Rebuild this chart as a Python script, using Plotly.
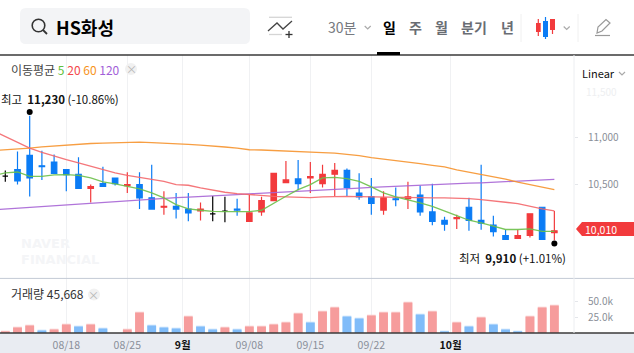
import plotly.graph_objects as go

FONT = "Noto Sans CJK KR"

session = list(range(46))
ma_session = [-1] + session

opens = [10590,10660,10810,10700,10740,10660,10610,10460,10510,10570,10490,10500,10360,10260,10270,10240,10220,10190,10220,10240,10110,10210,10330,10520,10560,10570,10510,10610,10650,10410,10370,10230,10350,10350,10390,10210,10120,10140,10260,10120,10070,9960,9930,9960,10260,9990]
highs = [10650,10850,11230,10860,10820,10660,10790,10500,10690,10570,10630,10630,10710,10430,10410,10410,10310,10380,10370,10350,10390,10370,10620,10750,10760,10740,10710,10730,10670,10620,10570,10430,10470,10530,10490,10510,10160,10180,10360,10710,10170,10020,10020,10190,10260,10220]
lows = [10530,10500,10375,10550,10620,10430,10460,10310,10480,10490,10410,10240,10240,10180,10140,10110,10120,10110,10100,10170,10110,10170,10330,10520,10440,10410,10470,10380,10380,10340,10180,10180,10270,10240,10170,10070,10010,10030,10010,10020,9950,9920,9930,9940,9920,9910]
closes = [10590,10540,10570,10690,10620,10605,10460,10480,10480,10510,10500,10360,10240,10270,10240,10200,10240,10190,10220,10230,10200,10330,10620,10550,10510,10585,10610,10650,10470,10370,10300,10360,10340,10370,10210,10110,10080,10150,10120,10090,10000,9920,9960,10190,9920,10010]
flat_sessions = [0, 17, 18]

ma5 = [10595,10624,10634,10588,10588,10603,10606,10598,10571,10529,10507,10482,10455,10412,10359,10288,10243,10228,10217,10214,10211,10214,10228,10306,10376,10447,10500,10571,10577,10563,10535,10476,10412,10370,10341,10306,10270,10217,10172,10122,10095,10059,10024,10024,10031,10003,10003]
ma20 = [11071,11011,10948,10888,10842,10799,10764,10730,10694,10659,10624,10598,10577,10550,10535,10500,10493,10465,10440,10419,10405,10394,10384,10376,10370,10366,10362,10370,10376,10376,10373,10370,10366,10362,10362,10362,10359,10359,10357,10352,10341,10323,10313,10299,10270,10243,10222]
ma60 = [10860,10867,10879,10888,10900,10910,10923,10930,10936,10941,10946,10952,10950,10946,10942,10934,10927,10919,10913,10899,10886,10870,10867,10863,10858,10851,10844,10840,10835,10823,10807,10786,10772,10756,10738,10722,10704,10687,10657,10632,10609,10585,10558,10526,10500,10474,10447]
ma120 = [10232,10241,10249,10258,10267,10276,10283,10293,10301,10310,10320,10328,10339,10350,10356,10362,10368,10373,10379,10388,10394,10402,10408,10414,10421,10427,10434,10442,10448,10455,10463,10471,10477,10484,10491,10498,10503,10508,10512,10515,10519,10526,10534,10542,10547,10551,10556]

volume_k = [3.7,10.2,13.4,5.3,6.9,15.0,11.8,15.0,8.5,0,6.9,34.4,13.4,10.2,8.5,27.9,11.8,6.9,10.2,6.9,11.8,11.8,15.0,18.2,32.7,18.2,36.0,42.4,27.9,24.7,29.5,34.4,34.4,50.5,31.1,36.0,3.7,18.2,11.8,26.3,15.0,6.9,3.7,27.9,42.4,45.668]
volume_up = [1,1,1,0,1,1,0,1,0,0,1,1,0,0,0,1,0,0,1,0,1,1,1,1,1,0,1,1,0,0,1,1,1,1,0,1,0,1,0,1,0,0,0,1,1,1]

extreme_session = [2, 45]
extreme_marker = [11270, 9875]

x_tickvals = [5, 10, 14.54, 20, 25, 30, 36.5]
x_ticklabels = ["08/18", "08/25", "9월", "09/08", "09/15", "09/22", "10월"]
price_ticks = [10500, 11000]
price_ticklabels = ["10,500", "11,000"]
volume_ticks = [25, 50]
volume_ticklabels = ["25.0k", "50.0k"]

RED, BLUE = "#f23a3c", "#0b7cf5"
W, H = 634, 353
ML, MR, MT, MB = 0, 60, 55, 20
PW, PH = W - ML - MR, H - MT - MB
def X(p): return p / PW
def Y(p): return (H - MB - p) / PH

fig = go.Figure()

keep = [i for i in session if i not in flat_sessions]
fig.add_trace(go.Candlestick(
    x=keep, open=[opens[i] for i in keep], high=[highs[i] for i in keep],
    low=[lows[i] for i in keep], close=[closes[i] for i in keep],
    increasing=dict(line=dict(color=RED, width=1.2), fillcolor=RED),
    decreasing=dict(line=dict(color=BLUE, width=1.2), fillcolor=BLUE),
    whiskerwidth=0, xaxis="x", yaxis="y", showlegend=False))
fig.add_trace(go.Candlestick(
    x=flat_sessions, open=[opens[i] for i in flat_sessions], high=[highs[i] for i in flat_sessions],
    low=[lows[i] for i in flat_sessions], close=[closes[i] for i in flat_sessions],
    increasing=dict(line=dict(color="#000", width=1.2), fillcolor="#000"),
    decreasing=dict(line=dict(color="#000", width=1.2), fillcolor="#000"),
    whiskerwidth=0, xaxis="x", yaxis="y", showlegend=False))

for vals, col in [(ma120, "#a866d6"), (ma60, "#f7942e"), (ma20, "#f4686c"), (ma5, "#6cc04a")]:
    fig.add_trace(go.Scatter(x=ma_session, y=vals, mode="lines", line=dict(color=col, width=1.3),
                             opacity=0.9, xaxis="x", yaxis="y", showlegend=False))

fig.add_trace(go.Scatter(x=extreme_session, y=extreme_marker, mode="markers",
                         marker=dict(color="#000", size=6), xaxis="x", yaxis="y", showlegend=False))

fig.add_trace(go.Bar(x=session, y=volume_k, width=0.72,
                     marker=dict(color=["#f9c6c6" if u else "#b9dafb" for u in volume_up], line_width=0),
                     xaxis="x", yaxis="y2", showlegend=False))
fig.add_trace(go.Bar(x=session, y=[max(v - 1.6, 0) for v in volume_k], width=0.72,
                     marker=dict(color=["#f69c9c" if u else "#80bcf9" for u in volume_up], line_width=0),
                     xaxis="x", yaxis="y2", showlegend=False))

shapes, annots = [], []
def line(x0, y0, x1, y1, color, width=1, layer="above"):
    shapes.append(dict(type="line", xref="paper", yref="paper", x0=X(x0), y0=Y(y0), x1=X(x1), y1=Y(y1),
                       line=dict(color=color, width=width), layer=layer))
def rect(x0, y0, x1, y1, fill, layer="above"):
    shapes.append(dict(type="rect", xref="paper", yref="paper", x0=X(x0), y0=Y(y0), x1=X(x1), y1=Y(y1),
                       fillcolor=fill, line_width=0, layer=layer))
def poly(pts, color=None, fill=None, width=1, close=False, layer="above"):
    d = "M" + " L".join(f"{X(a):.5f},{Y(b):.5f}" for a, b in pts) + (" Z" if close else "")
    shapes.append(dict(type="path", xref="paper", yref="paper", path=d, fillcolor=fill,
                       line=dict(color=color or "rgba(0,0,0,0)", width=width), layer=layer))
def circle(cx, cy, r, color=None, fill=None, width=1):
    shapes.append(dict(type="circle", xref="paper", yref="paper", x0=X(cx - r), x1=X(cx + r),
                       y0=Y(cy + r), y1=Y(cy - r), fillcolor=fill,
                       line=dict(color=color or "rgba(0,0,0,0)", width=width)))
def text(x, y, s, size, color="#333", anchor="left", family=FONT):
    annots.append(dict(xref="paper", yref="paper", x=X(x), y=Y(y), text=s, showarrow=False, xanchor=anchor,
                       yanchor="middle", borderpad=0, font=dict(size=size, color=color, family=family)))
def chevron(cx, cy):
    poly([(cx - 3, cy - 1.5), (cx, cy + 1.5), (cx + 3, cy - 1.5)], color="#aaa", width=1.2)

# frame
rect(0, 333, W, H, "#e9ecf2", layer="below")
rect(0, 56, 140, 76, "#ffffff", layer="between")
line(0, 55, W, 55, "#3a3a3a", 1.3)
line(0, 278.4, W, 278.4, "#c3cad5", 1)
line(0, 333, W, 333, "#3a3a3a", 1.3)
line(574, 55, 574, 333, "#eceef1", 1)

# search box
shapes.append(dict(type="path", xref="paper", yref="paper", line_width=0, fillcolor="#f3f4f6",
                   path=f"M{X(26)},{Y(8)} L{X(244)},{Y(8)} Q{X(250)},{Y(8)} {X(250)},{Y(14)} L{X(250)},{Y(38)} Q{X(250)},{Y(44)} {X(244)},{Y(44)} L{X(26)},{Y(44)} Q{X(20)},{Y(44)} {X(20)},{Y(38)} L{X(20)},{Y(14)} Q{X(20)},{Y(8)} {X(26)},{Y(8)} Z",
                   layer="below"))
circle(38.5, 25.5, 6.3, color="#333", width=1.6)
line(43, 30, 47, 34, "#333", 1.8)
text(55, 27, "<b>HS화성</b>", 18, "#000")

# indicator icon
line(269, 17.3, 292, 17.3, "#d5d5d5", 1.3)
line(269, 34.5, 282, 34.5, "#d5d5d5", 1.3)
poly([(268, 31), (277, 23), (283, 29), (292, 21)], color="#444", width=1.3)
line(289, 31, 289, 38, "#333", 1.3)
line(285.5, 34.5, 292.5, 34.5, "#333", 1.3)

# period menu
text(342.5, 27, "30분", 14, "#777a80", "center")
chevron(367.7, 27.5)
text(389, 27, "<b>일</b>", 14, "#000", "center")
text(415, 27, "<b>주</b>", 14, "#696d73", "center")
text(441, 27, "<b>월</b>", 14, "#696d73", "center")
text(474, 27, "<b>분기</b>", 14, "#696d73", "center")
text(508, 27, "<b>년</b>", 14, "#696d73", "center")
rect(377, 52, 400, 55, "#000")
line(521, 14, 521, 42, "#f0f0f0")
line(578, 14, 578, 42, "#f0f0f0")

# candle type icon
line(538.3, 19, 538.3, 36, RED, 1.2); rect(536, 23, 540.7, 32, RED)
line(545.5, 17, 545.5, 39, BLUE, 1.2); rect(543, 21, 548, 37, BLUE)
line(552.5, 19, 552.5, 34, RED, 1.2); rect(550, 19, 555, 30, RED)
chevron(566.7, 28)

# pencil
poly([(597, 33), (598, 27), (606, 19.5), (610, 23), (602, 31)], color="#999", width=1.2, close=True)
line(595, 35.5, 610, 35.5, "#999", 1.2)

# legend rows
text(10, 69, '이동평균 <span style="color:#61bf3c">5</span> <span style="color:#f4474b">20</span> <span style="color:#f7941d">60</span> <span style="color:#a25fd8">120</span>', 12, "#444")
circle(131, 69, 6, fill="#f1f1f1")
text(131, 69, "×", 11, "#b5b5b5", "center")
text(10, 293.5, "거래량 45,668", 12, "#333")
circle(94, 294.5, 6, fill="#f1f1f1")
text(94, 294.5, "×", 11, "#b5b5b5", "center")

# extremes
text(0, 99, "최고  <b>11,230</b> (-10.86%)", 11.5, "#111")
text(458, 258, "최저  <b>9,910</b> (+1.01%)", 11.5, "#111")

# watermark
text(20, 243.5, "<b>NAVER</b>", 13, "#f4f5f7", family="DejaVu Sans")
text(20, 259, "<b>FINANCIAL</b>", 13, "#f4f5f7", family="DejaVu Sans")

# right scale extras
text(581, 73, "Linear", 11, "#111")
chevron(622, 73.5)
text(585, 91, "11,500", 10, "#eeeff1")
poly([(576, 229), (582, 222), (634, 222), (634, 236), (582, 236)], fill=RED, close=True)
text(584, 229, "10,010", 10.5, "#ffffff")

ticktext = [f'<b><span style="color:#111">{t}</span></b>' if "월" in t else t for t in x_ticklabels]
fig.update_layout(
    width=W, height=H, margin=dict(l=ML, r=MR, t=MT, b=MB, pad=0, autoexpand=False),
    paper_bgcolor="#fff", plot_bgcolor="rgba(0,0,0,0)", font=dict(family=FONT, size=10, color="#8a8f99"),
    barmode="overlay", boxgap=0.36, hovermode=False, showlegend=False,
    xaxis=dict(range=[-0.434, 46.61], anchor="y2", tickmode="array", tickvals=x_tickvals, ticktext=ticktext,
               showgrid=True, gridcolor="#f0f1f3", gridwidth=1, zeroline=False, showline=False,
               ticks="outside", ticklen=2, tickcolor="rgba(0,0,0,0)",
               tickangle=0, rangeslider=dict(visible=False), tickfont=dict(size=10.5, color="#8a8f99")),
    yaxis=dict(domain=[54.6 / PH, 1], range=[9505, 11875], side="right", anchor="x", tickmode="array",
               tickvals=price_ticks, ticktext=price_ticklabels, showgrid=False, zeroline=False, showline=False,
               ticks="outside", ticklen=3, tickcolor="#e4e6ea", ticklabelstandoff=8),
    yaxis2=dict(domain=[0, 54.6 / PH], range=[0, 88], side="right", anchor="x", tickmode="array",
                tickvals=volume_ticks, ticktext=volume_ticklabels, showgrid=False, zeroline=False, showline=False,
                ticks="outside", ticklen=3, tickcolor="#e4e6ea", ticklabelstandoff=8),
    shapes=shapes, annotations=annots,
)
fig.write_html("out.html", config=dict(displayModeBar=False),
               post_script="document.body.style.margin='0';document.body.style.overflow='hidden';")
